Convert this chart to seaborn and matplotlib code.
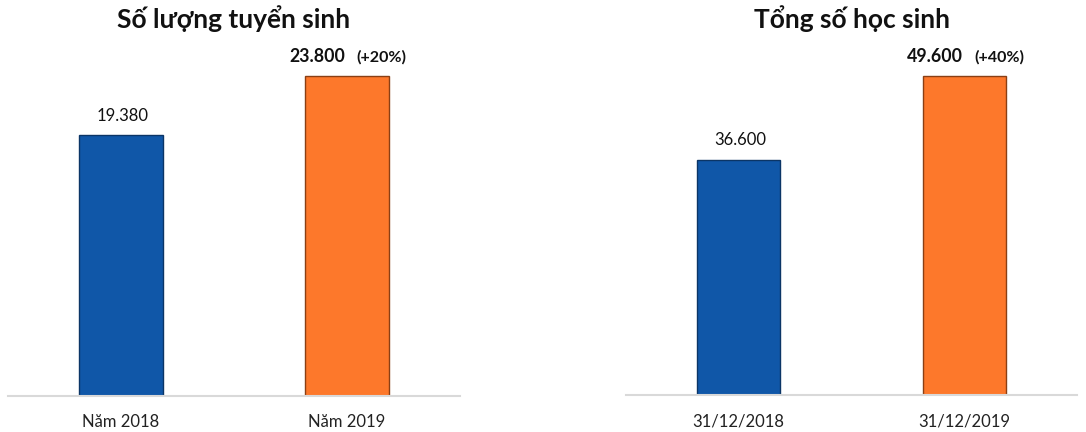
import matplotlib
matplotlib.use("Agg")
import matplotlib.pyplot as plt
import seaborn as sns

# data
titles = ["Số lượng tuyển sinh", "Tổng số học sinh"]
cats_left = ["Năm 2018", "Năm 2019"]
vals_left = [19380, 23800]
labels_left = ["19.380", "23.800"]
growth_left = "(+20%)"
cats_right = ["31/12/2018", "31/12/2019"]
vals_right = [36600, 49600]
labels_right = ["36.600", "49.600"]
growth_right = "(+40%)"

blue = "#1057A8"
orange = "#FD782B"
edges = ["#0B3566", "#8A3F14"]

sns.set_theme(style="white")
plt.rcParams["font.family"] = ["Lato", "Noto Sans", "DejaVu Sans"]

fig = plt.figure(figsize=(10.86, 4.32), dpi=100)
ax1 = fig.add_axes([8/1086, 36/432, 452/1086, 356/432])
ax2 = fig.add_axes([626/1086, 37/432, 451/1086, 355/432])


def draw(ax, title, cats, vals, labels, growth, top):
    sns.barplot(x=cats, y=vals, hue=cats, palette=[blue, orange], legend=False,
                width=0.37, ax=ax, saturation=1)
    for p, ec in zip(ax.patches, edges):
        p.set_edgecolor(ec)
        p.set_linewidth(1.0)
    ax.set_xlim(-0.5, 1.5)
    ax.set_ylim(0, top)
    ax.set_yticks([])
    ax.set_ylabel("")
    for s in ["top", "left", "right"]:
        ax.spines[s].set_visible(False)
    ax.spines["bottom"].set_color("#d9d9d9")
    ax.spines["bottom"].set_linewidth(1.5)
    ax.tick_params(axis="x", length=0, pad=13, labelsize=12, labelcolor="#222222")
    ax.set_title(title, fontsize=19, fontweight="bold", pad=9, color="#111111")

    # first bar: plain label
    ax.annotate(labels[0], (0, vals[0]), xytext=(1, 8), textcoords="offset points",
                ha="center", va="bottom", fontsize=12, color="#111111")
    # second bar: bold value + growth
    ax.annotate(labels[1], (1, vals[1]), xytext=(-1, 8), textcoords="offset points",
                ha="right", va="bottom", fontsize=12.8, fontweight="bold", color="#111111")
    ax.annotate(growth, (1, vals[1]), xytext=(7, 8.3), textcoords="offset points",
                ha="left", va="bottom", fontsize=11.5, fontweight="bold", color="#111111")


draw(ax1, titles[0], cats_left, vals_left, labels_left, growth_left, 23800 * 356 / 320)
draw(ax2, titles[1], cats_right, vals_right, labels_right, growth_right, 49600 * 355 / 319)

fig.savefig("out.png", dpi=100)
